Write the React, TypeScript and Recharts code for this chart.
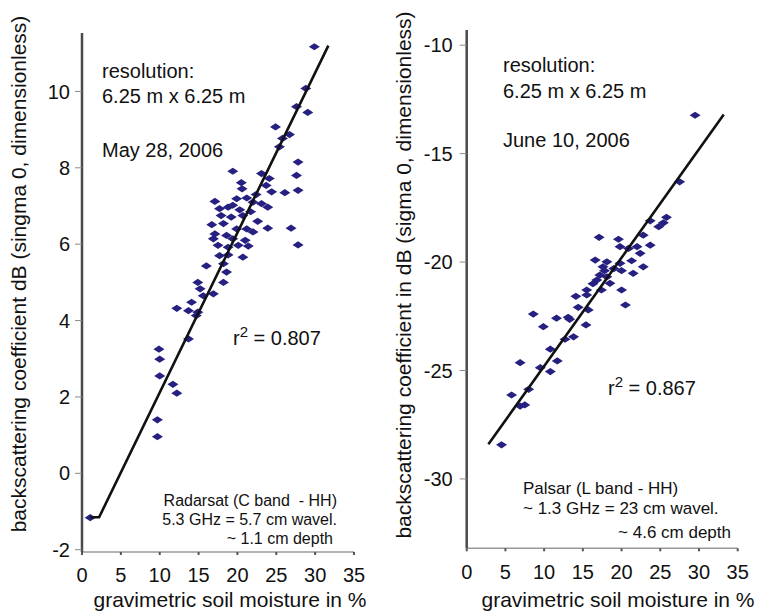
import React from "react";
import { ScatterChart, Scatter, XAxis, YAxis } from "recharts";

// Radarsat (C band - HH), May 28, 2006
const radarsatMoisture = [
  29.9, 28.8, 27.6, 29.05, 24.9, 26.7, 25.8, 25.4, 27.8, 27.6, 19.4, 23.1, 24.1, 20.5, 23.7, 20.6,
  27.8, 24.4, 26.1, 21.2, 19.9, 17.1, 22.0, 23.1, 19.4, 23.9, 18.8, 17.7, 17.9, 20.7, 19.2, 18.2,
  16.7, 23.9, 26.9, 19.9, 21.2, 22.0, 17.1, 18.6, 16.9, 19.4, 27.8, 17.5, 20.1, 21.4, 18.8, 18.8,
  17.7, 20.7, 18.2, 16.0, 18.6, 14.9, 18.2, 15.2, 16.9, 15.6, 14.1, 12.2, 13.7, 14.9, 14.7, 13.7,
  9.9, 10.0, 10.0, 11.7, 12.2, 9.7, 9.7, 1.06, 21.7, 22.6, 20.3, 22.4, 21.0,
];
const radarsatSigma = [
  11.17, 10.08, 9.6, 9.45, 9.07, 8.87, 8.77, 8.55, 8.15, 7.8, 7.91, 7.85, 7.72, 7.61, 7.54, 7.45,
  7.41, 7.37, 7.35, 7.21, 7.19, 7.12, 7.1, 7.06, 7.02, 6.97, 6.97, 6.93, 6.75, 6.75, 6.71, 6.54,
  6.51, 6.42, 6.42, 6.4, 6.4, 6.32, 6.27, 6.23, 6.14, 6.14, 5.98, 5.97, 5.97, 5.95, 5.92, 5.72,
  5.7, 5.66, 5.49, 5.43, 5.27, 5.0, 5.0, 4.83, 4.7, 4.65, 4.48, 4.32, 4.26, 4.22, 4.13, 3.52,
  3.25, 2.99, 2.55, 2.33, 2.1, 1.4, 0.96, -1.16, 6.85, 6.6, 6.9, 7.3, 6.1,
];
const radarsatFitX = [1.1, 2.2, 31.7];
const radarsatFitY = [-1.15, -1.15, 11.2];

// Palsar (L band - HH), June 10, 2006
const palsarMoisture = [
  29.5, 27.5, 25.8, 25.4, 24.8, 23.7, 22.8, 17.1, 19.6, 23.7, 22.0, 19.8, 20.9, 22.4, 16.6, 21.3,
  18.1, 19.8, 17.6, 22.8, 20.0, 21.5, 17.2, 18.1, 16.8, 18.5, 20.0, 15.5, 17.4, 14.1, 15.5, 20.5,
  14.4, 15.7, 8.6, 13.1, 11.6, 13.3, 15.4, 9.9, 13.8, 12.7, 10.8, 11.7, 6.9, 9.5, 10.8, 8.0,
  5.8, 6.9, 7.5, 4.5, 17.8, 16.3, 19.0,
];
const palsarSigma = [
  -13.23, -16.3, -17.94, -18.19, -18.37, -18.1, -18.76, -18.86, -18.95, -19.22, -19.29, -19.29,
  -19.37, -19.6, -19.91, -19.94, -19.99, -20.06, -20.22, -20.22, -20.4, -20.52, -20.6, -20.68,
  -20.83, -20.98, -21.29, -21.29, -21.29, -21.58, -21.52, -21.98, -22.09, -22.21, -22.4, -22.55,
  -22.59, -22.64, -22.9, -22.98, -23.45, -23.56, -24.02, -24.56, -24.64, -24.87, -25.05, -25.87,
  -26.13, -26.64, -26.59, -28.43, -20.4, -21.0, -20.3,
];
const palsarFitX = [2.8, 33.2];
const palsarFitY = [-28.4, -13.2];

const moistureTicks = [0, 5, 10, 15, 20, 25, 30, 35];
const radarsatTicks = [-2, 0, 2, 4, 6, 8, 10];
const palsarTicks = [-30, -25, -20, -15, -10];

const FONT = "'Liberation Sans', Arial, Helvetica, sans-serif";
const DOT = "#262080";

const toPoints = (xs: number[], ys: number[]) => xs.map((x, i) => ({ x, y: ys[i] }));

function Diamond(props: any) {
  const { cx, cy } = props;
  if (cx == null || cy == null) return <g />;
  return (
    <polygon
      points={`${cx - 5.5},${cy} ${cx},${cy - 3.6} ${cx + 5.5},${cy} ${cx},${cy + 3.6}`}
      fill={DOT}
    />
  );
}

interface PanelProps {
  width: number;
  yWidth: number;
  top: number;
  right: number;
  xHeight: number;
  yDomain: [number, number];
  yTicks: number[];
  yTickMargin: number;
  xTickMargin: number;
  points: { x: number; y: number }[];
  fit: { x: number; y: number }[];
}

function Panel(p: PanelProps) {
  return (
    <ScatterChart width={p.width} height={615} margin={{ top: p.top, right: p.right, bottom: 0, left: 0 }}>
      <XAxis
        type="number"
        dataKey="x"
        domain={[0, 35]}
        ticks={moistureTicks}
        interval={0}
        allowDataOverflow
        height={p.xHeight}
        axisLine={{ stroke: "#9a9a9a", strokeWidth: 1.5 }}
        tickLine={{ stroke: "#555", strokeWidth: 2 }}
        tickSize={3}
        tickMargin={p.xTickMargin}
        tick={{ fill: "#111", fontSize: 20, fontFamily: FONT }}
      />
      <YAxis
        type="number"
        dataKey="y"
        domain={p.yDomain}
        ticks={p.yTicks}
        interval={0}
        allowDataOverflow
        width={p.yWidth}
        axisLine={{ stroke: "#4a4a4a", strokeWidth: 2.5 }}
        tickLine={{ stroke: "#8a8a8a", strokeWidth: 1 }}
        tickSize={7}
        tickMargin={p.yTickMargin}
        tick={{ fill: "#111", fontSize: 20, fontFamily: FONT }}
      />
      <Scatter data={p.points} shape={Diamond} isAnimationActive={false} />
      <Scatter
        data={p.fit}
        line={{ stroke: "#111", strokeWidth: 2.6 }}
        shape={() => <g />}
        isAnimationActive={false}
      />
    </ScatterChart>
  );
}

const text = (style: React.CSSProperties): React.CSSProperties => ({
  position: "absolute",
  fontFamily: FONT,
  color: "#111",
  whiteSpace: "nowrap",
  ...style,
});

export default function App() {
  return (
    <div style={{ position: "absolute", left: 0, top: 0, width: 762, height: 615, background: "#fff", overflow: "hidden" }}>
      <div style={{ position: "absolute", left: 0, top: 0 }}>
        <Panel
          width={380}
          yWidth={82}
          top={33}
          right={26}
          xHeight={63}
          yDomain={[-2.06, 11.53]}
          yTicks={radarsatTicks}
          yTickMargin={5}
          xTickMargin={13}
          points={toPoints(radarsatMoisture, radarsatSigma)}
          fit={toPoints(radarsatFitX, radarsatFitY)}
        />
      </div>
      <div style={{ position: "absolute", left: 380, top: 0 }}>
        <Panel
          width={382}
          yWidth={86.7}
          top={30}
          right={24.3}
          xHeight={66.7}
          yDomain={[-33.2, -9.3]}
          yTicks={palsarTicks}
          yTickMargin={7}
          xTickMargin={13}
          points={toPoints(palsarMoisture, palsarSigma)}
          fit={toPoints(palsarFitX, palsarFitY)}
        />
      </div>

      {/* left annotations */}
      <div style={text({ left: 102, top: 61, fontSize: 20, lineHeight: "20px" })}>resolution:</div>
      <div style={text({ left: 102, top: 86, fontSize: 20, lineHeight: "20px" })}>6.25 m x 6.25 m</div>
      <div style={text({ left: 102, top: 140, fontSize: 20, lineHeight: "20px" })}>May 28, 2006</div>
      <div style={text({ left: 233, top: 328, fontSize: 20, lineHeight: "20px" })}>
        r<span style={{ fontSize: 15, position: "relative", top: -8 }}>2</span> = 0.807
      </div>
      <div style={text({ right: 762 - 337, top: 492, fontSize: 16, lineHeight: "18px", textAlign: "right" })}>
        Radarsat (C band &nbsp;- HH)
      </div>
      <div style={text({ right: 762 - 337, top: 511, fontSize: 16, lineHeight: "18px", textAlign: "right" })}>
        5.3 GHz = 5.7 cm wavel.
      </div>
      <div style={text({ right: 762 - 333, top: 529.5, fontSize: 16, lineHeight: "18px", textAlign: "right" })}>
        ~ 1.1 cm depth
      </div>

      {/* right annotations */}
      <div style={text({ left: 503, top: 55, fontSize: 20, lineHeight: "20px" })}>resolution:</div>
      <div style={text({ left: 503, top: 81, fontSize: 20, lineHeight: "20px" })}>6.25 m x 6.25 m</div>
      <div style={text({ left: 503, top: 130, fontSize: 20, lineHeight: "20px" })}>June 10, 2006</div>
      <div style={text({ left: 608, top: 378, fontSize: 20, lineHeight: "20px" })}>
        r<span style={{ fontSize: 15, position: "relative", top: -8 }}>2</span> = 0.867
      </div>
      <div style={text({ left: 523, top: 480, fontSize: 17, lineHeight: "18px" })}>Palsar (L band - HH)</div>
      <div style={text({ left: 523, top: 500, fontSize: 17, lineHeight: "18px" })}>~ 1.3 GHz = 23 cm wavel.</div>
      <div style={text({ right: 762 - 731, top: 524, fontSize: 17, lineHeight: "18px", textAlign: "right" })}>
        ~ 4.6 cm depth
      </div>

      {/* axis titles */}
      <div style={text({ left: 230, top: 600, fontSize: 21, transform: "translate(-50%, -50%)" })}>
        gravimetric soil moisture in %
      </div>
      <div style={text({ left: 618, top: 600, fontSize: 21, transform: "translate(-50%, -50%)" })}>
        gravimetric soil moisture in %
      </div>
      <div style={text({ left: 19, top: 274, fontSize: 21, transform: "translate(-50%, -50%) rotate(-90deg)" })}>
        backscattering coefficient dB (singma 0, dimensionless)
      </div>
      <div style={text({ left: 404, top: 275, fontSize: 21, transform: "translate(-50%, -50%) rotate(-90deg)" })}>
        backscattering coefficient in dB (sigma 0, dimensionless)
      </div>
    </div>
  );
}
